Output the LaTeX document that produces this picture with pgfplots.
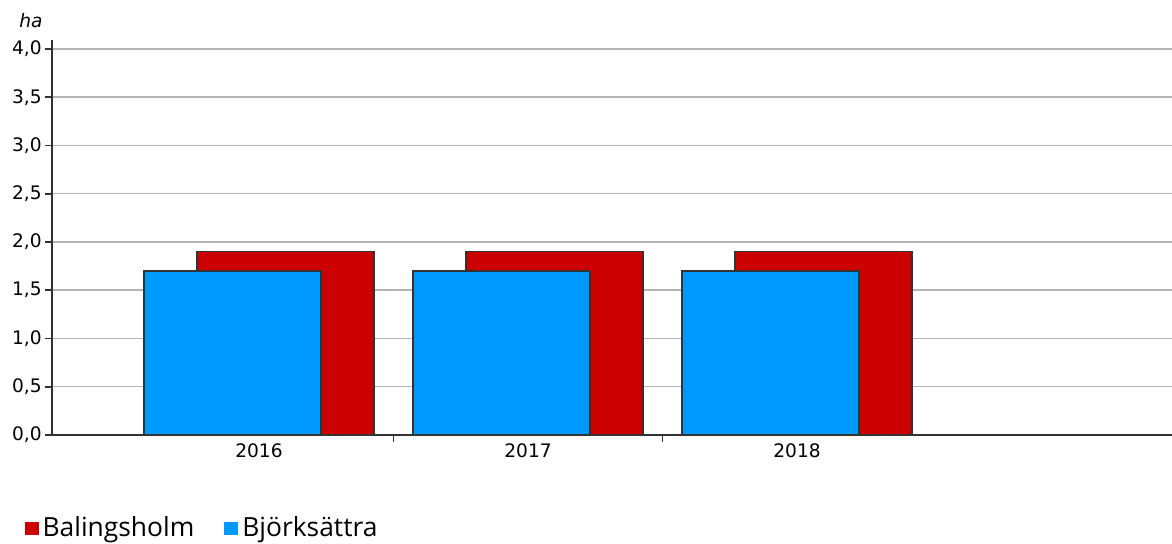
\documentclass[border=0pt]{standalone}
\usepackage{pgfplots}
\pgfplotsset{compat=1.18}
\usepackage{fontspec}
\setmainfont{DejaVu Sans}
\newfontfamily\legfont{Open Sans}
\definecolor{bred}{HTML}{CC0000}
\definecolor{bblue}{HTML}{0099FF}
\definecolor{edge}{HTML}{333333}
\definecolor{gridc}{HTML}{B4B4B4}
\begin{document}
\begin{tikzpicture}
\path[use as bounding box] (0,0) rectangle (586pt,-272pt);
\begin{axis}[
  at={(26pt,-217.5pt)}, anchor=south west,
  scale only axis, width=560pt, height=197.35pt,
  xmin=-0.7695, xmax=3.394, ymin=0, ymax=4.09,
  axis x line*=bottom, axis y line*=left,
  axis line style={-, draw=edge, line width=1pt},
  ytick={0,0.5,...,4},
  ymajorgrids, grid style={draw=gridc, line width=0.75pt},
  tick align=outside, major tick length=3.5pt,
  tick style={draw=edge, line width=0.8pt},
  xtick={0.5,1.5}, xticklabels={},
  extra x ticks={0,1,2}, extra x tick labels={2016,2017,2018},
  extra x tick style={major tick length=0pt},
  xticklabel style={yshift=-1pt},
  yticklabel style={inner sep=1pt, xshift=-0.5pt},
  tick label style={font=\fontsize{9.3}{10}\selectfont},
  /pgf/number format/assume math mode=true,
  /pgf/number format/use comma,
  /pgf/number format/fixed,
  /pgf/number format/fixed zerofill,
  /pgf/number format/precision=1,
  legend style={at={(-0.0245,-0.2360)}, anchor=west, draw=none, fill=none,
    legend columns=2, font=\legfont\fontsize{13.2}{15}\selectfont,
    /tikz/every even column/.append style={column sep=13pt},
    inner sep=0pt, outer sep=0pt},
  legend image code/.code={\fill[#1,draw=none] (0pt,-3.5pt) rectangle (7pt,3.3pt);},
  legend cell align=left,
]
\addplot[ybar, bar width=0.658, bar shift=0.0985, fill=bred, draw=edge, line width=0.75pt]
  coordinates {(0,1.9) (1,1.9) (2,1.9)};
\addlegendentry{Balingsholm}
\addplot[ybar, bar width=0.658, bar shift=-0.0985, fill=bblue, draw=edge, line width=0.75pt]
  coordinates {(0,1.7) (1,1.7) (2,1.7)};
\addlegendentry{Björksättra}
\end{axis}
\node[font=\itshape\fontsize{9.3}{10}\selectfont, anchor=base] at (15.5pt,-14pt) {ha};
\end{tikzpicture}
\end{document}
